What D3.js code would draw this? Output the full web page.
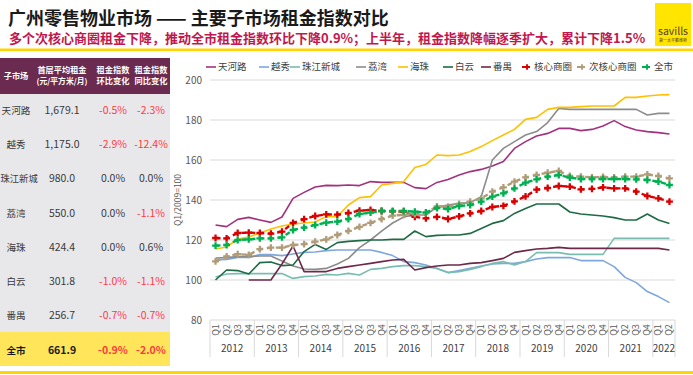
<!DOCTYPE html>
<html>
<head>
<meta charset="utf-8">
<script src="https://cdn.jsdelivr.net/npm/d3@7"></script>
<style>
  body { margin: 0; background: #fff; }
  svg { display: block; font-family: "Noto Sans CJK SC", "Noto Sans", sans-serif; }
</style>
</head>
<body>
<div id="chart"></div>
<script>
// 季度与年份
const years = ["2012", "2013", "2014", "2015", "2016", "2017", "2018", "2019", "2020", "2021", "2022"];
const quarters = [];
years.forEach(y => {
    const n = y === "2022" ? 2 : 4;
    for (let q = 1; q <= n; q++) quarters.push({ key: y + "Q" + q, label: "Q" + q, year: y });
});

// 各子市场租金指数 (Q1/2009=100)
const tianhe = [127.5, 126.7, 130.3, 131.3, 130, 128.8, 131.5, 140.8, 143.8, 146.5, 147.3, 147.2, 147.5, 147.2, 149.2, 148.8, 148.8, 148.8, 146.2, 145.7, 148.8, 150.3, 152.5, 154.2, 155.3, 157, 159.2, 165.8, 169.2, 172, 173.3, 175.8, 175.8, 174.7, 175.3, 177, 179.7, 176.7, 175, 174.2, 173.7, 173];
const yuexiu = [110, 110.3, 111.3, 111.3, 112.7, 112.7, 112.2, 113, 113.8, 114, 114.7, 115, 115, 115, 115, 113.8, 112.2, 109.2, 108.7, 107.5, 105.8, 103.7, 104.7, 105.8, 107, 108, 108.3, 108.3, 109.2, 110.5, 111.2, 111.2, 111.2, 109.7, 109.7, 109.7, 106.7, 101.3, 98.7, 94.2, 91.7, 88.7];
const zhujiang = [101.5, 103, 103.2, 103.2, 103.2, 103.2, 103.2, 100.8, 101.7, 102, 102.8, 102.5, 103.3, 102.5, 105.3, 105.8, 106.7, 107.2, 107.2, 106.7, 105.8, 103.7, 104.2, 105.3, 106.7, 108.3, 109.2, 107.5, 109.2, 113.7, 113.7, 113.7, 112.8, 112.8, 112.8, 112.8, 120.8, 120.8, 120.8, 120.8, 120.8, 120.8];
const liwan = [111, 111.2, 111.7, 111.7, 112, 112, 109.5, 107, 105.5, 105.3, 105.8, 108, 110.8, 116.2, 120, 124.4, 128.5, 131.5, 132.5, 132.5, 136.5, 137.5, 138.3, 138.7, 141.7, 160, 165.8, 169.2, 172.5, 174.2, 178.7, 185.8, 185.3, 185.3, 185.3, 185.3, 185.3, 185.3, 185.3, 182.5, 183.3, 183.3];
const haizhu = [115.5, 116.5, 120.5, 121.5, 123.5, 125.5, 127, 128, 128.5, 129, 131.7, 131.7, 137.5, 141.2, 141.7, 147.5, 148.3, 149.2, 156.2, 157.8, 162.5, 162.2, 162.5, 164.2, 166.7, 169.7, 172.5, 175.3, 180.3, 181.3, 185.3, 186.3, 186.3, 186.7, 187, 187, 187, 191.3, 191.3, 192, 192.5, 192.7];
const baiyun = [100, 105, 104.7, 103, 108.7, 109, 107.2, 107.5, 114.2, 117.8, 115.3, 118.7, 119.3, 119.7, 120, 120, 120.3, 120.3, 124.5, 121.7, 122.3, 122.5, 122.5, 123.3, 125.8, 128.3, 129.7, 133.3, 135.8, 138, 138, 138, 134, 133, 132.5, 132, 131.2, 130, 130, 133, 130, 128.3];
const panyu = [null, null, null, 100, 100, 100, 108, 117, 104.2, 104.2, 104.2, 105.8, 106.7, 107.5, 108.3, 109.2, 110, 110.3, 105, 106.2, 107, 107.5, 107.5, 108.3, 108.7, 109.7, 110.8, 113.8, 114.7, 115.5, 115.8, 116.3, 115.8, 115.8, 115.8, 115.8, 115.8, 115.8, 115.8, 115.8, 115.8, 115];
const core = [121, 120.8, 123.5, 123.7, 123.5, 123.2, 124.2, 128.5, 130.4, 132, 132.8, 132.7, 133.5, 134.7, 135, 134.5, 134.3, 134.2, 131.6, 130.8, 131.6, 130.5, 131.8, 133.3, 134.5, 136.5, 137.1, 139.3, 141.8, 145.2, 146, 147, 146.7, 145.3, 145.6, 146.3, 145.8, 145.8, 144.2, 142, 140.8, 139.2];
const subCore = [109.3, 111.8, 112.9, 112.6, 115.4, 116.2, 116.2, 117.5, 117.9, 119.2, 120.3, 122.5, 124.6, 126.6, 128.6, 130.5, 132.2, 132.6, 133, 133.5, 136.8, 136.7, 138, 139.2, 140.8, 144.2, 146.3, 149.2, 151.3, 152.5, 153.7, 154.5, 152, 151.7, 151.3, 151.5, 151.3, 151.7, 151.7, 152.8, 152, 150.8];
const wholeCity = [117.2, 117.5, 120, 120.3, 120.8, 120.8, 121.3, 125, 126.2, 127.5, 128.7, 129.2, 130.5, 133, 133.7, 134.5, 134.5, 134.5, 134.2, 133.8, 136, 135.5, 137, 137.5, 139.2, 141.7, 143.3, 145.8, 148.7, 150.3, 151.7, 152.5, 151.2, 150.5, 150.5, 150.5, 150.5, 150.5, 150.3, 150, 149.2, 147.5];

const seriesNames = ["天河路", "越秀", "珠江新城", "荔湾", "海珠", "白云", "番禺", "核心商圈", "次核心商圈", "全市"];
const seriesValues = [tianhe, yuexiu, zhujiang, liwan, haizhu, baiyun, panyu, core, subCore, wholeCity];
const seriesColors = ["#A3327E", "#7FA7DE", "#79BDB1", "#8C8C8C", "#FFC000", "#1F6B45", "#6E2849", "#D90000", "#B09C78", "#00B050"];
const dashedSeries = ["核心商圈", "次核心商圈", "全市"];

const yTicks = [80, 100, 120, 140, 160, 180, 200];

// 左侧表格
const tableNames = ["天河路", "越秀", "珠江新城", "荔湾", "海珠", "白云", "番禺", "全市"];
const tableRent = ["1,679.1", "1,175.0", "980.0", "550.0", "424.4", "301.8", "256.7", "661.9"];
const tableMoM = ["-0.5%", "-2.9%", "0.0%", "0.0%", "0.0%", "-1.0%", "-0.7%", "-0.9%"];
const tableYoY = ["-2.3%", "-12.4%", "0.0%", "-1.1%", "0.6%", "-1.1%", "-0.7%", "-2.0%"];

const width = 693, height = 375;
const svg = d3.select("#chart").append("svg")
    .attr("width", width)
    .attr("height", height);

// 标题
svg.append("text")
    .attr("x", 8).attr("y", 25)
    .style("font-size", "18px").style("font-weight", "bold").style("fill", "#1a1a1a")
    .text("广州零售物业市场 —— 主要子市场租金指数对比");
svg.append("text")
    .attr("x", 9).attr("y", 43)
    .style("font-size", "13px").style("font-weight", "bold").style("fill", "#C2174E")
    .text("多个次核心商圈租金下降，推动全市租金指数环比下降0.9%；上半年，租金指数降幅逐季扩大，累计下降1.5%");

svg.append("rect").attr("x", 0).attr("y", 48.5).attr("width", width).attr("height", 2.5).attr("fill", "#FFD400");
svg.append("rect").attr("x", 0).attr("y", 371).attr("width", width).attr("height", 3).attr("fill", "#FFD400");

// savills 标志
svg.append("rect").attr("x", 655).attr("y", 3).attr("width", 36).attr("height", 43).attr("fill", "#FFE500");
svg.append("text").attr("x", 673).attr("y", 35).attr("text-anchor", "middle")
    .style("font-size", "10.5px").style("fill", "#5a3a2a").text("savills");
svg.append("text").attr("x", 673).attr("y", 42).attr("text-anchor", "middle")
    .style("font-size", "4px").style("fill", "#5a3a2a").text("第一太平戴维斯");

// 表格
const table = svg.append("g");
table.append("rect").attr("x", 0).attr("y", 58).attr("width", 170).attr("height", 36).attr("fill", "#6B2A4F");
table.append("rect").attr("x", 0).attr("y", 94).attr("width", 170).attr("height", 238).attr("fill", "#E8E8EB");
table.append("rect").attr("x", 0).attr("y", 332).attr("width", 170).attr("height", 34).attr("fill", "#FFE55A");

const colX = [16, 62, 113, 151];
const header = [["子市场"], ["首层平均租金", "(元/平方米/月)"], ["租金指数", "环比变化"], ["租金指数", "同比变化"]];
header.forEach((lines, c) => {
    lines.forEach((t, k) => {
        table.append("text")
            .attr("x", colX[c])
            .attr("y", lines.length === 1 ? 78.5 : 73 + k * 10.5)
            .attr("text-anchor", "middle")
            .style("font-size", c === 1 && k === 1 ? "7.8px" : "8.2px")
            .style("font-weight", "bold").style("fill", "#fff")
            .text(t);
    });
});

const rowY = d3.scaleLinear().domain([0, 7]).range([110, 349.5]);
tableNames.forEach((name, r) => {
    const last = r === tableNames.length - 1;
    const cells = [name, tableRent[r], tableMoM[r], tableYoY[r]];
    cells.forEach((t, c) => {
        const neg = c >= 2 && t.startsWith("-");
        const fs = c === 0 ? (t.length > 3 ? 9.3 : 9.6) : 10.5;
        const cx = c === 0 ? Math.max(colX[0], t.length * fs / 2 + 0.5) : colX[c];
        table.append("text")
            .attr("x", cx)
            .attr("y", rowY(r) + 4)
            .attr("text-anchor", "middle")
            .style("font-size", fs + "px")
            .style("font-weight", last ? "bold" : "normal")
            .style("fill", neg ? "#FF3B3B" : (last ? "#1a1a1a" : "#3a3a3a"))
            .text(t);
    });
});

// 折线图
const x = d3.scaleBand().domain(quarters.map(d => d.key)).range([210, 675]);
const y = d3.scaleLinear().domain([80, 200]).range([320, 80]);

const grid = svg.append("g");
grid.selectAll("line").data(yTicks).enter().append("line")
    .attr("x1", 210).attr("x2", 675)
    .attr("y1", d => y(d)).attr("y2", d => y(d))
    .attr("stroke", "#D9D9D9").attr("stroke-width", 1);

svg.append("g").selectAll("text").data(yTicks).enter().append("text")
    .attr("x", 202).attr("y", d => y(d) + 3.5)
    .attr("text-anchor", "end")
    .style("font-size", "10px").style("fill", "#595959")
    .text(d => d);

svg.append("text")
    .attr("transform", "translate(181,200) rotate(-90)")
    .attr("text-anchor", "middle")
    .style("font-size", "8.5px").style("fill", "#595959")
    .text("Q1/2009=100");

// x 轴：季度与年份
const xAxis = svg.append("g");
xAxis.selectAll(".q").data(quarters).enter().append("text")
    .attr("transform", d => `translate(${x(d.key) + x.bandwidth() / 2 + 3},330) rotate(-90)`)
    .attr("text-anchor", "middle")
    .style("font-size", "9px").style("fill", "#595959")
    .text(d => d.label);

const yearGroups = years.map(yr => {
    const qs = quarters.filter(q => q.year === yr);
    return { year: yr, x0: x(qs[0].key), x1: x(qs[qs.length - 1].key) + x.bandwidth() };
});
const bounds = [yearGroups[0].x0].concat(yearGroups.map(g => g.x1));
xAxis.selectAll(".sep").data(bounds).enter().append("line")
    .attr("x1", d => d).attr("x2", d => d)
    .attr("y1", 320).attr("y2", 357)
    .attr("stroke", "#D9D9D9").attr("stroke-width", 1);
xAxis.selectAll(".yr").data(yearGroups).enter().append("text")
    .attr("x", d => (d.x0 + d.x1) / 2).attr("y", 352)
    .attr("text-anchor", "middle")
    .style("font-size", "10px").style("fill", "#404040")
    .text(d => d.year);

const line = d3.line()
    .defined(d => d != null)
    .x((d, i) => x(quarters[i].key) + x.bandwidth() / 2)
    .y(d => y(d));

const cross = d3.symbol().type(d3.symbolCross).size(26);

seriesNames.forEach((name, s) => {
    const dashed = dashedSeries.includes(name);
    const vals = seriesValues[s];
    const g = svg.append("g");
    g.append("path")
        .datum(vals)
        .attr("d", line)
        .attr("fill", "none")
        .attr("stroke", seriesColors[s])
        .attr("stroke-width", dashed ? 2.4 : 1.6)
        .attr("stroke-dasharray", dashed ? "5,4" : null)
        .attr("stroke-linejoin", "round");
    if (dashed) {
        g.selectAll("path.m").data(vals).enter().append("path")
            .attr("class", "m")
            .attr("d", cross)
            .attr("transform", (d, i) => `translate(${x(quarters[i].key) + x.bandwidth() / 2},${y(d)})`)
            .attr("fill", seriesColors[s]);
    }
});

// 图例
const legendX = [206, 259, 290, 356, 398, 443, 481, 522, 577, 642];
const legend = svg.append("g");
seriesNames.forEach((name, s) => {
    const dashed = dashedSeries.includes(name);
    const gx = legendX[s];
    const item = legend.append("g").attr("transform", `translate(${gx},67)`);
    item.append("line")
        .attr("x1", 0).attr("x2", 10).attr("y1", 0).attr("y2", 0)
        .attr("stroke", seriesColors[s])
        .attr("stroke-width", dashed ? 2.2 : 1.6)
        .attr("stroke-dasharray", dashed ? "3,2" : null);
    if (dashed) {
        item.append("path").attr("d", d3.symbol().type(d3.symbolCross).size(18))
            .attr("transform", "translate(5,0)").attr("fill", seriesColors[s]);
    }
    item.append("text")
        .attr("x", 12).attr("y", 3.3)
        .style("font-size", "9.5px").style("fill", "#404040")
        .text(name);
});
</script>
</body>
</html>
